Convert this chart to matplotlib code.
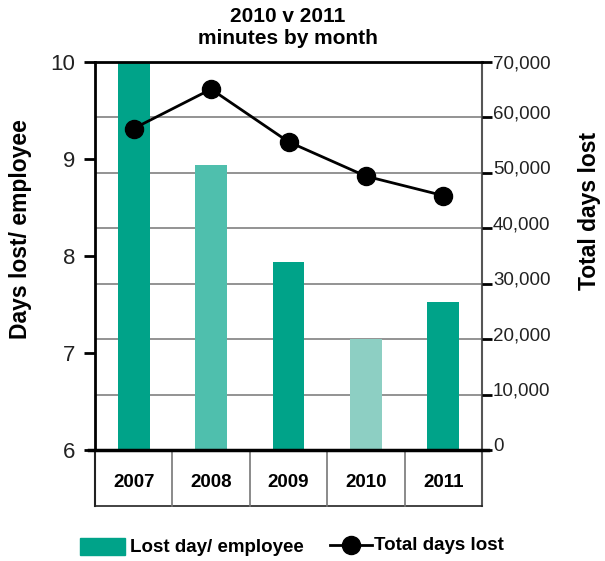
import numpy as np
import matplotlib
matplotlib.use("Agg")
import matplotlib.pyplot as plt
from matplotlib.lines import Line2D
from matplotlib.patches import Rectangle
import matplotlib.transforms as mtransforms

plt.rcParams['font.family'] = ['Liberation Sans', 'DejaVu Sans']

# data
years = ['2007', '2008', '2009', '2010', '2011']
lost_per_employee = [10.0, 8.94, 7.94, 7.14, 7.53]
total_days_lost = [58000, 65100, 55600, 49400, 45900]
bar_colors = ['#00a389', '#4fbfad', '#00a389', '#8dcfc3', '#00a389']

left_ticks = [6, 7, 8, 9, 10]
right_ticks = list(range(0, 70001, 10000))

fig = plt.figure(figsize=(6.05, 5.61), dpi=100)
ax = fig.add_axes([95/605, 1 - 450/561, (482-95)/605, (450-62)/561])
ax2 = ax.twinx()

x = np.arange(len(years))
ax.set_xlim(-0.5, len(years) - 0.5)
ax.set_ylim(6, 10)
ax2.set_ylim(0, 70000)

# gridlines from the right axis, drawn on the left axis so bars cover them
for v in right_ticks[1:-1]:
    ax.axhline(6 + v / 70000 * 4, color='#808080', lw=1.2, zorder=0)

ax.bar(x, lost_per_employee, width=0.41, bottom=0, color=bar_colors, zorder=2)

ax2.plot(x, total_days_lost, color='black', lw=2, marker='o', ms=13, zorder=3)

# spines
for s in ['top', 'bottom', 'left', 'right']:
    ax.spines[s].set_visible(False)
    ax2.spines[s].set_visible(False)
ax.spines['left'].set_visible(True)
ax.spines['left'].set_linewidth(2)
ax.spines['left'].set_color('black')
ax.axhline(10, color='black', lw=2, zorder=4, clip_on=False)
ax.plot([-0.58, 4.58], [6, 6], color='black', lw=2.5, clip_on=False, zorder=5)

# right axis line extends through table
trans = mtransforms.blended_transform_factory(ax.transData, ax.transAxes)
tab_h = (506 - 450) / (450 - 62)
ax.plot([4.5, 4.5], [1, -tab_h], color='#555555', lw=1.5, transform=trans, clip_on=False)
ax.plot([-0.5, -0.5], [0, -tab_h], color='#222222', lw=1.5, transform=trans, clip_on=False)
ax.plot([-0.5, 4.5], [-tab_h, -tab_h], color='#222222', lw=1.2, transform=trans, clip_on=False)
for b in np.arange(0.5, len(years) - 0.5, 1):
    ax.plot([b, b], [0, -tab_h], color='#777777', lw=1.2, transform=trans, clip_on=False)

# ticks
ax.set_yticks(left_ticks)
ax.set_yticklabels([str(t) for t in left_ticks], fontsize=16, color='#222222')
ax.tick_params(axis='y', length=8, width=2, color='black', pad=6)
ax.set_xticks(x)
ax.set_xticklabels(years, fontsize=13.5, fontweight='bold')
ax.tick_params(axis='x', length=0, pad=17)

ax2.set_yticks(right_ticks)
ax2.set_yticklabels([f'{t:,}' for t in right_ticks], fontsize=13.5, color='#222222')
ax2.tick_params(axis='y', length=7, width=2, color='black', pad=1)
offset = mtransforms.ScaledTranslation(0, 4/72, fig.dpi_scale_trans)
for lab in ax2.get_yticklabels()[:-1]:
    lab.set_transform(lab.get_transform() + offset)

ax.set_ylabel('Days lost/ employee', fontsize=16.5, fontweight='bold')
ax.yaxis.set_label_coords(-(95 - 32) / 387, 1 - (229 - 62) / 388)
ax2.set_ylabel('Total days lost', fontsize=16.5, fontweight='bold', rotation=90)
ax2.yaxis.set_label_coords(1 + (578 - 482) / 387, 1 - (211 - 62) / 388)

fig.text(288/605, 1 - 28/561, '2010 v 2011\nminutes by month', ha='center', va='center',
         fontsize=15, fontweight='bold', linespacing=1.2)

# legend
fig.patches.append(Rectangle((80/605, 1 - 555/561), 45/605, 17/561, transform=fig.transFigure,
                             color='#00a389'))
fig.text(130/605, 1 - 547/561, 'Lost day/ employee', fontsize=13.5, fontweight='bold', va='center')
fig.lines.append(Line2D([330/605, 372/605], [1 - 545/561, 1 - 545/561], transform=fig.transFigure,
                        color='black', lw=2, marker=None))
fig.lines.append(Line2D([351/605], [1 - 545/561], transform=fig.transFigure,
                        color='black', marker='o', ms=13))
fig.text(374/605, 1 - 546/561, 'Total days lost', fontsize=13.5, fontweight='bold', va='center')

fig.savefig('out.png', dpi=100)
